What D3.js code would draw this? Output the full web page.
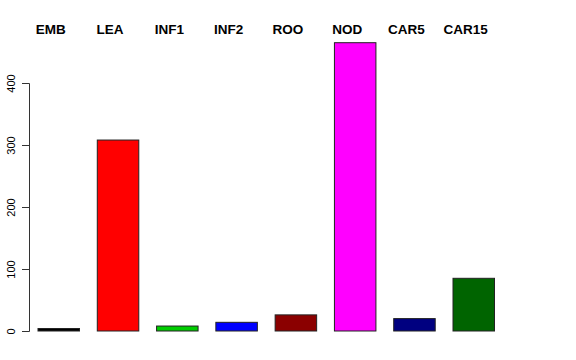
<!DOCTYPE html>
<html><head><meta charset="utf-8">
<script src="https://cdn.jsdelivr.net/npm/d3@7"></script>
<style>body{margin:0;background:#fff}svg{display:block}</style>
</head><body>
<svg id="c" width="576" height="360"></svg>
<script>
const categories = ["EMB","LEA","INF1","INF2","ROO","NOD","CAR5","CAR15"];
const values = [4, 308, 8, 14, 26, 465, 20, 85];
const colors = ["#000000","#FF0000","#00CD00","#0000FF","#8B0000","#FF00FF","#000080","#006400"];
const yTicks = [0,100,200,300,400];

const svg = d3.select("#c");
const y = d3.scaleLinear().domain([0,400]).range([331,83]);
const x = d3.scaleBand().domain(categories).range([38,494.5]).paddingInner(0.3).paddingOuter(0);

svg.append("g").selectAll("rect").data(categories).join("rect")
  .attr("x", d=>x(d)).attr("width", x.bandwidth())
  .attr("y", (d,i)=>y(values[i])).attr("height",(d,i)=>y(0)-y(values[i]))
  .attr("fill",(d,i)=>colors[i]).attr("stroke","#222").attr("stroke-width",1);

const ax = svg.append("g").attr("transform","translate(29,0)")
  .call(d3.axisLeft(y).tickValues(yTicks).tickSize(7).tickPadding(4));
ax.select(".domain").attr("stroke","#333");
ax.selectAll(".tick line").attr("stroke","#333");
ax.selectAll(".tick text").attr("font-family","Liberation Sans, Arial, sans-serif")
  .attr("font-size",11).attr("fill","#000")
  .attr("transform","rotate(-90)").attr("x",0).attr("y",-14).attr("dy","0.0em")
  .attr("text-anchor","middle");

svg.append("g").selectAll("text").data(categories).join("text")
  .attr("x", d=>x(d)+x.bandwidth()/2-8).attr("y", 34)
  .attr("text-anchor","middle")
  .attr("font-family","Liberation Sans, Arial, sans-serif").attr("font-weight","bold")
  .attr("font-size",13.5).attr("fill","#000").text(d=>d);
</script>
</body></html>
